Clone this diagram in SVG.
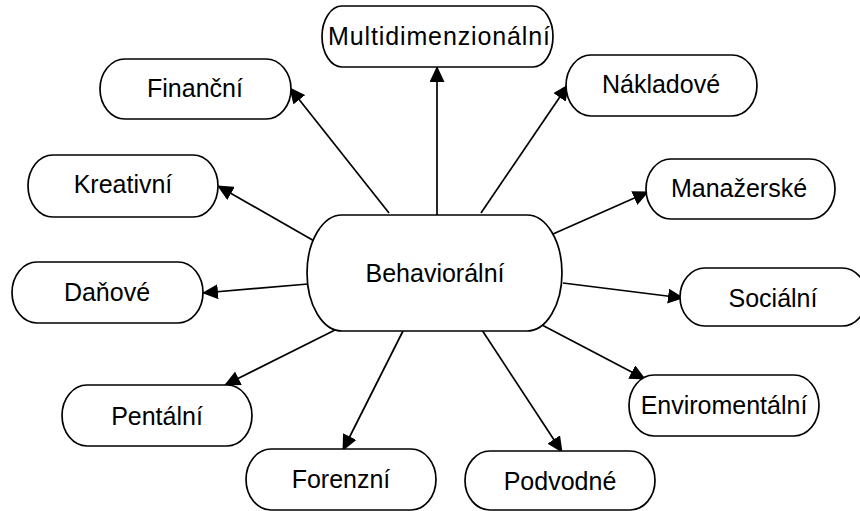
<svg xmlns="http://www.w3.org/2000/svg" width="860" height="511" viewBox="0 0 860 511">
<style>
.box{fill:#fff;stroke:#000;stroke-width:1.7}
.lbl{font-family:"Liberation Sans",Arial,sans-serif;font-size:25px;fill:#000;text-anchor:middle}
.conn line{stroke:#000;stroke-width:1.7;marker-end:url(#arr)}
</style>
<defs>
<marker id="arr" markerUnits="userSpaceOnUse" markerWidth="16" markerHeight="15" viewBox="0 0 16 15" refX="15" refY="7.5" orient="auto">
<path d="M0,0 L16,7.5 L0,15 Z" fill="#000"/>
</marker>
</defs>
<rect width="860" height="511" fill="#fff"/>
<g class="conn" id="connectors">
<line x1="437" y1="215" x2="437" y2="67"/>
<line x1="389" y1="213" x2="290" y2="88"/>
<line x1="316" y1="242" x2="218" y2="186"/>
<line x1="308" y1="284" x2="203" y2="293"/>
<line x1="337" y1="329" x2="225" y2="385"/>
<line x1="405" y1="327" x2="343" y2="450"/>
<line x1="480" y1="327" x2="562" y2="452"/>
<line x1="542" y1="325" x2="645" y2="379"/>
<line x1="563" y1="283" x2="683" y2="298"/>
<line x1="553" y1="234" x2="648" y2="192"/>
<line x1="481" y1="213" x2="568" y2="85"/>
</g>
<g id="behavioralni">
<path class="box" d="M342,215 H527 A35,58 0 0 1 527,331 H342 A35,58 0 0 1 342,215 Z"/>
<text class="lbl" x="435" y="282">Behaviorální</text>
</g>
<g id="multidimenzionalni">
<path class="box" d="M342,6 H533 A20,30.5 0 0 1 533,67 H342 A20,30.5 0 0 1 342,6 Z"/>
<text class="lbl" x="439" y="45" textLength="222" lengthAdjust="spacing">Multidimenzionální</text>
</g>
<g id="financni">
<path class="box" d="M125,59 H266 A25,30 0 0 1 266,119 H125 A25,30 0 0 1 125,59 Z"/>
<text class="lbl" x="195" y="97">Finanční</text>
</g>
<g id="kreativni">
<path class="box" d="M53,155 H193 A25,31 0 0 1 193,217 H53 A25,31 0 0 1 53,155 Z"/>
<text class="lbl" x="123" y="193">Kreativní</text>
</g>
<g id="danove">
<path class="box" d="M37,262 H178 A25,30.5 0 0 1 178,323 H37 A25,30.5 0 0 1 37,262 Z"/>
<text class="lbl" x="107" y="301">Daňové</text>
</g>
<g id="pentalni">
<path class="box" d="M87,385 H227 A25,30.5 0 0 1 227,446 H87 A25,30.5 0 0 1 87,385 Z"/>
<text class="lbl" x="157" y="425">Pentální</text>
</g>
<g id="forenzni">
<path class="box" d="M271,449 H411 A25,30.5 0 0 1 411,510 H271 A25,30.5 0 0 1 271,449 Z"/>
<text class="lbl" x="341" y="488">Forenzní</text>
</g>
<g id="podvodne">
<path class="box" d="M490,451 H630 A25,29.5 0 0 1 630,510 H490 A25,29.5 0 0 1 490,451 Z"/>
<text class="lbl" x="560" y="490">Podvodné</text>
</g>
<g id="enviromentalni">
<path class="box" d="M654,375 H794 A25,30.5 0 0 1 794,436 H654 A25,30.5 0 0 1 654,375 Z"/>
<text class="lbl" x="724" y="414">Enviromentální</text>
</g>
<g id="socialni">
<path class="box" d="M705,268 H842 A25,29 0 0 1 842,326 H705 A25,29 0 0 1 705,268 Z"/>
<text class="lbl" x="773" y="307">Sociální</text>
</g>
<g id="manazerske">
<path class="box" d="M671,159 H810 A25,30 0 0 1 810,219 H671 A25,30 0 0 1 671,159 Z"/>
<text class="lbl" x="739" y="197">Manažerské</text>
</g>
<g id="nakladove">
<path class="box" d="M591,55 H732 A25,30.5 0 0 1 732,116 H591 A25,30.5 0 0 1 591,55 Z"/>
<text class="lbl" x="661" y="93">Nákladové</text>
</g>
</svg>
